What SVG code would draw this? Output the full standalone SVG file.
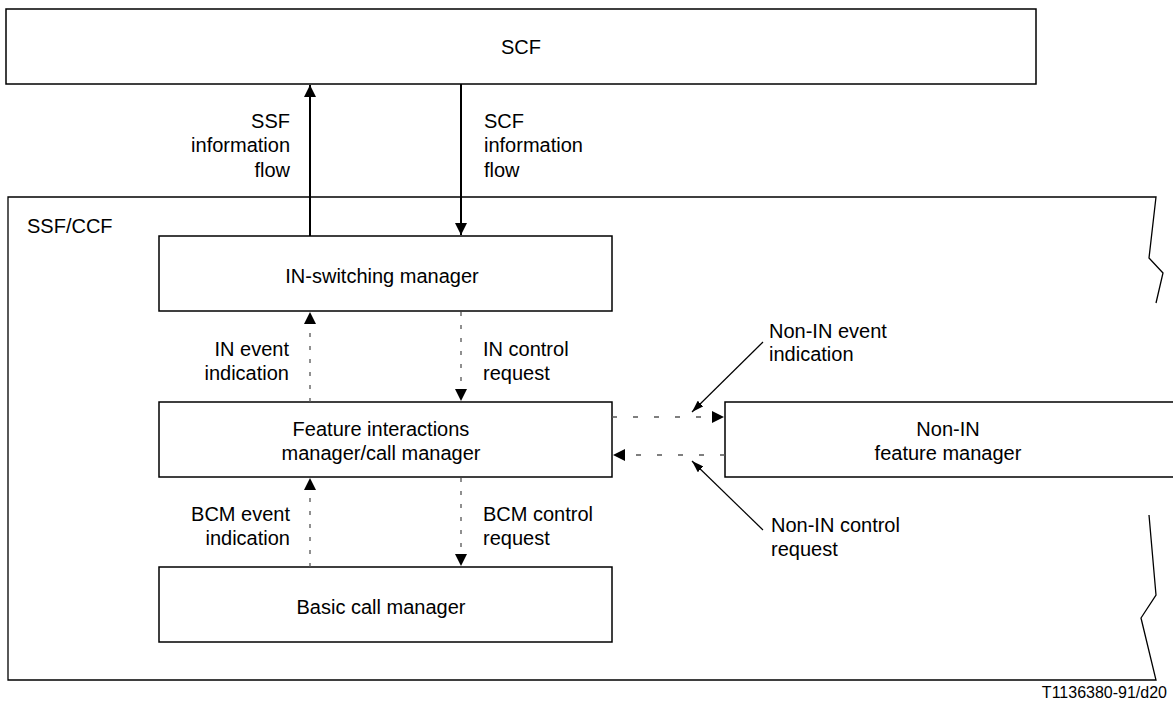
<svg xmlns="http://www.w3.org/2000/svg" width="1173" height="703" viewBox="0 0 1173 703">
<style>
.box{fill:#fff;stroke:#000;stroke-width:1.5}
.frame{fill:none;stroke:#000;stroke-width:1.3}
text{font-family:"Liberation Sans",Arial,sans-serif;font-size:20px;fill:#000}
.c{text-anchor:middle}
.r{text-anchor:end}
.solid{stroke:#000;stroke-width:2;fill:none}
.dv{stroke:#555;stroke-width:1.3;stroke-dasharray:4 9;fill:none}
.dh{stroke:#555;stroke-width:1.3;stroke-dasharray:5 16;fill:none}
.thin{stroke:#000;stroke-width:1.2;fill:none}
</style>
<defs>
<marker id="ah" viewBox="0 0 12 12" refX="12" refY="6" markerWidth="12" markerHeight="12" markerUnits="userSpaceOnUse" orient="auto">
<path d="M0,0 L12,6 L0,12 Z" fill="#000"/>
</marker>
<marker id="ahs" viewBox="0 0 12 8" refX="12" refY="4" markerWidth="12" markerHeight="8" markerUnits="userSpaceOnUse" orient="auto">
<path d="M0,0 L12,4 L0,8 Z" fill="#000"/>
</marker>
</defs>
<rect width="1173" height="703" fill="#fff"/>
<g id="scf">
<rect class="box" x="6" y="9" width="1030" height="75"/>
<text class="c" x="521" y="54">SCF</text>
</g>
<g id="ssfccf">
<path class="frame" d="M1156,303 L1163,273 L1149,258 L1156,197 L8,197 L8,680 L1156,680 L1141,618 L1156,595 L1149,515"/>
<text x="27" y="233">SSF/CCF</text>
</g>
<g id="in-switching">
<rect class="box" x="159" y="236" width="453" height="75"/>
<text class="c" x="382" y="283">IN-switching manager</text>
</g>
<g id="fim">
<rect class="box" x="159" y="402" width="453" height="75"/>
<text class="c" x="381" y="436">Feature interactions</text>
<text class="c" x="381" y="460">manager/call manager</text>
</g>
<g id="bcm">
<rect class="box" x="159" y="567" width="453" height="75"/>
<text class="c" x="381" y="614">Basic call manager</text>
</g>
<g id="nonin">
<path class="box" d="M1173,402 L725,402 L725,477 L1173,477"/>
<text class="c" x="948" y="436">Non-IN</text>
<text class="c" x="948" y="460">feature manager</text>
</g>
<g id="connectors">
<line class="solid" x1="310" y1="236" x2="310" y2="85" marker-end="url(#ah)"/>
<line class="solid" x1="461" y1="84" x2="461" y2="235" marker-end="url(#ah)"/>
<line class="dv" x1="310" y1="402" x2="310" y2="312" marker-end="url(#ah)"/>
<line class="dv" x1="461" y1="312" x2="461" y2="401" marker-end="url(#ah)"/>
<line class="dv" x1="310" y1="567" x2="310" y2="478" marker-end="url(#ah)"/>
<line class="dv" x1="461" y1="478" x2="461" y2="566" marker-end="url(#ah)"/>
<line class="dh" x1="612" y1="417" x2="724" y2="417" marker-end="url(#ah)"/>
<line class="dh" x1="725" y1="455" x2="613" y2="455" marker-end="url(#ah)"/>
<line class="thin" x1="763" y1="342" x2="692" y2="412" marker-end="url(#ahs)"/>
<line class="thin" x1="763" y1="530" x2="692" y2="461" marker-end="url(#ahs)"/>
</g>
<g id="labels">
<text class="r" x="290" y="128">SSF</text>
<text class="r" x="290" y="152">information</text>
<text class="r" x="290" y="177">flow</text>
<text x="484" y="128">SCF</text>
<text x="484" y="152">information</text>
<text x="484" y="177">flow</text>
<text class="r" x="289" y="356">IN event</text>
<text class="r" x="289" y="380">indication</text>
<text x="483" y="356">IN control</text>
<text x="483" y="380">request</text>
<text class="r" x="290" y="521">BCM event</text>
<text class="r" x="290" y="545">indication</text>
<text x="483" y="521">BCM control</text>
<text x="483" y="545">request</text>
<text x="769" y="338">Non-IN event</text>
<text x="769" y="361">indication</text>
<text x="771" y="532">Non-IN control</text>
<text x="771" y="556">request</text>
<text class="r" x="1167" y="698" style="font-size:16px">T1136380-91/d20</text>
</g>
</svg>
